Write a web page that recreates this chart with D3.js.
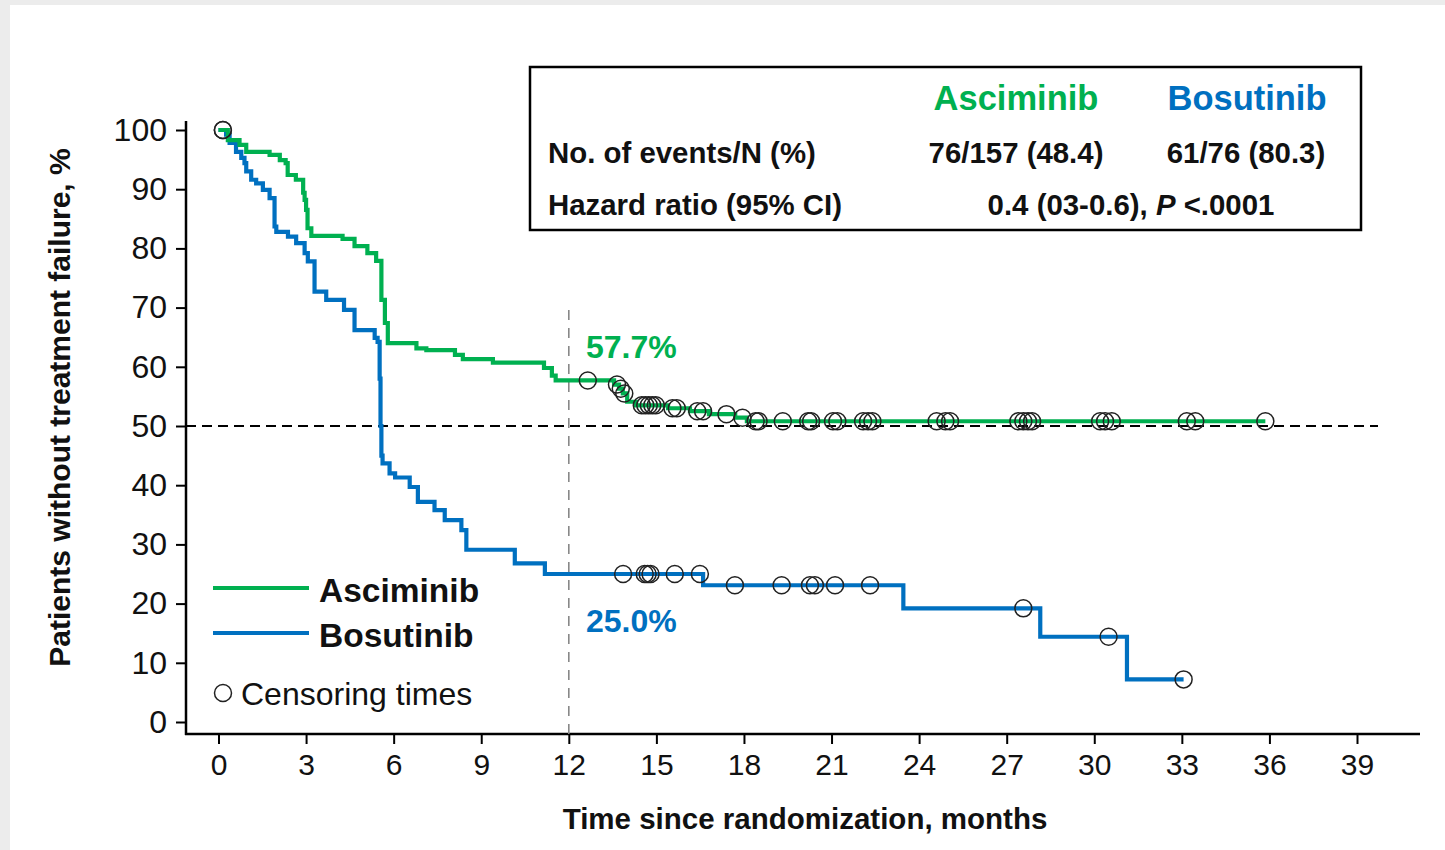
<!DOCTYPE html>
<html>
<head>
<meta charset="utf-8">
<script src="https://cdn.jsdelivr.net/npm/d3@7"></script>
<style>
  html, body { margin: 0; padding: 0; background: #ececec; }
  svg { display: block; }
  text { font-family: "Liberation Sans", Arial, sans-serif; }
</style>
</head>
<body>
<svg id="chart" width="1445" height="850"></svg>
<script>
// Kaplan–Meier step data: [months, % without treatment failure after the event]
const asciminibSteps = [
  [0, 100], [0.32, 98.3], [0.72, 97.5], [0.95, 96.3], [1.75, 95.8], [2.1, 94.9],
  [2.3, 94.4], [2.37, 92.4], [2.65, 91.6], [2.9, 89.4], [2.95, 88.2], [3.0, 86.5],
  [3.05, 83.4], [3.18, 82.1], [4.25, 81.6], [4.66, 80.4], [5.1, 79.2], [5.4, 77.9],
  [5.58, 71.3], [5.7, 67.4], [5.8, 64.0], [6.78, 63.1], [7.12, 62.8], [8.1, 62.0],
  [8.37, 61.3], [9.4, 60.7], [11.15, 59.8], [11.42, 58.5], [11.55, 57.7],
  [13.55, 57.0], [13.72, 56.3], [13.85, 55.5], [14.0, 54.1], [14.3, 53.5],
  [15.4, 53.0], [16.15, 52.5], [16.8, 52.0], [17.7, 51.4], [18.1, 50.8]
];
const asciminibCensored = [
  0.15, 12.65, 13.65, 13.78, 13.9, 14.5, 14.62, 14.74, 14.86, 14.98, 15.55, 15.7,
  16.4, 16.6, 17.4, 17.95, 18.4, 18.5, 19.33, 20.2, 20.3, 21.05, 21.2, 22.08,
  22.25, 22.4, 24.6, 24.9, 25.06, 27.4, 27.57, 27.73, 27.87, 30.2, 30.37, 30.6,
  33.17, 33.46, 35.86
];
const bosutinibSteps = [
  [0, 100], [0.26, 99.2], [0.38, 97.8], [0.6, 96.3], [0.78, 95.3], [0.89, 94.4],
  [0.95, 93.0], [1.12, 91.6], [1.29, 91.0], [1.52, 89.9], [1.75, 88.5], [1.92, 83.7],
  [1.98, 82.8], [2.38, 82.0], [2.66, 80.9], [2.95, 79.2], [3.06, 77.8], [3.29, 72.7],
  [3.69, 71.3], [4.3, 69.6], [4.66, 66.2], [5.35, 64.9], [5.45, 64.2], [5.52, 58.0],
  [5.55, 50.0], [5.58, 45.0], [5.62, 43.7], [5.86, 42.0], [6.05, 41.3], [6.55, 39.7],
  [6.83, 37.2], [7.4, 35.8], [7.75, 34.1], [8.32, 32.4], [8.49, 29.1], [10.15, 26.8],
  [11.18, 25.0], [16.6, 23.1], [23.46, 19.2], [28.15, 14.4], [31.12, 7.2]
];
const bosutinibCensored = [
  0.15, 13.86, 14.6, 14.7, 14.8, 15.63, 16.49, 17.69, 19.29, 20.26, 20.43, 21.12,
  22.32, 27.57, 30.49, 33.06
];
const xTicks = [0, 3, 6, 9, 12, 15, 18, 21, 24, 27, 30, 33, 36, 39];
const yTicks = [0, 10, 20, 30, 40, 50, 60, 70, 80, 90, 100];
const landmarkMonth = 12;
const landmarkLabels = ["57.7%", "25.0%"];
const medianLine = 50;

const GREEN = "#00b050";
const BLUE = "#0070c0";

const svg = d3.select("#chart");

// white panel
svg.append("rect").attr("x", 10).attr("y", 5).attr("width", 1435).attr("height", 845)
  .attr("fill", "#ffffff");

const x = d3.scaleLinear().domain([0, 39]).range([218.5, 1357]);
const y = d3.scaleLinear().domain([0, 100]).range([722, 130]);

const axisX = 186, axisY = 734;

// axes
const yAxis = svg.append("g").attr("transform", `translate(${axisX},0)`)
  .call(d3.axisLeft(y).tickValues(yTicks).tickSize(10).tickPadding(9));
yAxis.select(".domain").remove();
yAxis.selectAll("line").attr("stroke", "#000").attr("stroke-width", 2);
yAxis.selectAll("text").attr("font-size", 32).attr("fill", "#111");

const xAxis = svg.append("g").attr("transform", `translate(0,${axisY})`)
  .call(d3.axisBottom(x).tickValues(xTicks).tickSize(10).tickPadding(10));
xAxis.select(".domain").remove();
xAxis.selectAll("line").attr("stroke", "#000").attr("stroke-width", 2);
xAxis.selectAll("text").attr("font-size", 30).attr("fill", "#111");

svg.append("line").attr("x1", axisX).attr("x2", axisX).attr("y1", 121).attr("y2", axisY + 1)
  .attr("stroke", "#000").attr("stroke-width", 2.5);
svg.append("line").attr("x1", axisX - 1).attr("x2", 1420).attr("y1", axisY).attr("y2", axisY)
  .attr("stroke", "#000").attr("stroke-width", 2.5);

// axis titles
svg.append("text").attr("transform", `translate(70,${(145 + 670) / 2}) rotate(-90)`)
  .attr("text-anchor", "middle").attr("font-size", 30).attr("font-weight", "bold")
  .attr("fill", "#111").text("Patients without treatment failure, %");
svg.append("text").attr("x", 805).attr("y", 829).attr("text-anchor", "middle")
  .attr("font-size", 29.5).attr("font-weight", "bold").attr("fill", "#111")
  .text("Time since randomization, months");

// reference lines
svg.append("line").attr("x1", axisX).attr("x2", 1378)
  .attr("y1", y(medianLine)).attr("y2", y(medianLine))
  .attr("stroke", "#000").attr("stroke-width", 2).attr("stroke-dasharray", "10,6");
svg.append("line").attr("x1", x(landmarkMonth)).attr("x2", x(landmarkMonth))
  .attr("y1", 310).attr("y2", axisY)
  .attr("stroke", "#888").attr("stroke-width", 1.6).attr("stroke-dasharray", "10,8");

// survival curves
function stepPath(steps, endTime) {
  const pts = steps.concat([[endTime, steps[steps.length - 1][1]]]);
  return d3.line().x(d => x(d[0])).y(d => y(d[1])).curve(d3.curveStepAfter)(pts);
}
function survAt(steps, t) {
  let v = steps[0][1];
  for (const s of steps) { if (s[0] <= t) v = s[1]; else break; }
  return v;
}

const series = [
  { steps: bosutinibSteps, censored: bosutinibCensored, color: BLUE },
  { steps: asciminibSteps, censored: asciminibCensored, color: GREEN }
];

series.forEach(s => {
  svg.append("path").attr("d", stepPath(s.steps, d3.max(s.censored)))
    .attr("fill", "none").attr("stroke", s.color).attr("stroke-width", 4.2);
});
series.forEach(s => {
  svg.append("g").selectAll("circle").data(s.censored).join("circle")
    .attr("cx", d => x(d)).attr("cy", d => y(survAt(s.steps, d)))
    .attr("r", 8.5).attr("fill", "none").attr("stroke", "#222").attr("stroke-width", 1.5);
});

// landmark labels
svg.append("text").attr("x", 586).attr("y", 358).attr("font-size", 32)
  .attr("font-weight", "bold").attr("fill", GREEN).text(landmarkLabels[0]);
svg.append("text").attr("x", 586).attr("y", 632).attr("font-size", 32)
  .attr("font-weight", "bold").attr("fill", BLUE).text(landmarkLabels[1]);

// legend
const legend = svg.append("g");
[["Asciminib", GREEN, 588], ["Bosutinib", BLUE, 633]].forEach(([name, col, ly]) => {
  legend.append("line").attr("x1", 213).attr("x2", 309).attr("y1", ly).attr("y2", ly)
    .attr("stroke", col).attr("stroke-width", 4);
  legend.append("text").attr("x", 319).attr("y", ly + 14).attr("font-size", 33.5)
    .attr("font-weight", "bold").attr("fill", "#111").text(name);
});
legend.append("circle").attr("cx", 223).attr("cy", 693).attr("r", 8.5)
  .attr("fill", "none").attr("stroke", "#222").attr("stroke-width", 1.5);
legend.append("text").attr("x", 241).attr("y", 705).attr("font-size", 32)
  .attr("fill", "#111").text("Censoring times");

// summary table
const tbl = svg.append("g");
tbl.append("rect").attr("x", 530).attr("y", 67).attr("width", 831).attr("height", 163)
  .attr("fill", "#fff").attr("stroke", "#000").attr("stroke-width", 2.5);
tbl.append("text").attr("x", 1016).attr("y", 110).attr("text-anchor", "middle")
  .attr("font-size", 34.5).attr("font-weight", "bold").attr("fill", GREEN).text("Asciminib");
tbl.append("text").attr("x", 1247).attr("y", 110).attr("text-anchor", "middle")
  .attr("font-size", 34.5).attr("font-weight", "bold").attr("fill", BLUE).text("Bosutinib");
tbl.append("text").attr("x", 548).attr("y", 163).attr("font-size", 29.4)
  .attr("font-weight", "bold").attr("fill", "#111").text("No. of events/N (%)");
tbl.append("text").attr("x", 1016).attr("y", 163).attr("text-anchor", "middle").attr("font-size", 29.4)
  .attr("font-weight", "bold").attr("fill", "#111").text("76/157 (48.4)");
tbl.append("text").attr("x", 1246).attr("y", 163).attr("text-anchor", "middle").attr("font-size", 29.4)
  .attr("font-weight", "bold").attr("fill", "#111").text("61/76 (80.3)");
tbl.append("text").attr("x", 548).attr("y", 215).attr("font-size", 29.4)
  .attr("font-weight", "bold").attr("fill", "#111").text("Hazard ratio (95% CI)");
const hr = tbl.append("text").attr("x", 1131).attr("y", 215).attr("text-anchor", "middle")
  .attr("font-size", 29.4).attr("font-weight", "bold").attr("fill", "#111");
hr.append("tspan").text("0.4 (03-0.6), ");
hr.append("tspan").attr("font-style", "italic").text("P");
hr.append("tspan").text(" <.0001");
</script>
</body>
</html>
